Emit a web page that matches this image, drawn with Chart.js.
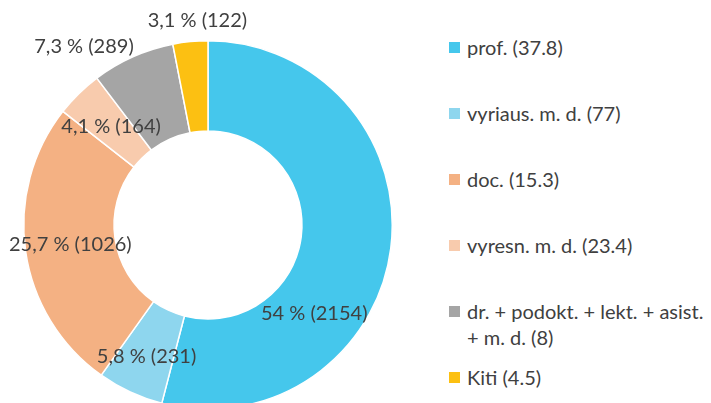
<!DOCTYPE html>
<html>
<head>
<meta charset="utf-8">
<script src="https://cdn.jsdelivr.net/npm/chart.js@4.4.1/dist/chart.umd.min.js"></script>
<style>
  html, body { margin:0; padding:0; background:#fff; overflow:hidden; }
  body { width:711px; height:403px; position:relative; font-family: Lato, sans-serif; }
  #wrap { position:absolute; left:0; top:0; width:416px; height:450px; }
  #legend { position:absolute; left:449px; top:34px; width:262px; margin:0; padding:0; list-style:none; }
  #legend li { height:66px; display:flex; align-items:flex-start; font-size:20px; line-height:26px; color:#404040; }
  #legend .box { width:11px; height:11px; flex:none; margin-top:8px; margin-right:7px; }
</style>
</head>
<body>
<div id="wrap"><canvas id="donut" width="416" height="450"></canvas></div>
<ul id="legend"></ul>
<script>
// slices go clockwise from 12 o'clock
const names = ['prof.', 'vyriaus. m. d.', 'doc.', 'vyresn. m. d.', 'dr. + podokt. + lekt. + asist. + m. d.', 'Kiti'];
const legendValues = [37.8, 77, 15.3, 23.4, 8, 4.5];
const counts = [2154, 231, 1026, 164, 289, 122];
const colors = ['#45C7EC', '#8ED6EE', '#F4B183', '#F8CBAD', '#A5A5A5', '#FCC012'];

// where each data label sits: fraction along the slice, distance as share of outer radius
const labelSpot = [0.667, 0.5, 0.5, 0.5, 0.09, 0.73];
const labelDist = [0.75, 0.79, 0.755, 0.75, 1.18, 1.11];

const total = counts.reduce((a, b) => a + b, 0);

function pctText(v) {
  const p = (v / total * 100).toFixed(1).replace('.', ',').replace(/,0$/, '');
  return `${p} % (${v})`;
}

const sliceLabels = {
  id: 'sliceLabels',
  afterDatasetsDraw(chart) {
    const ctx = chart.ctx;
    const meta = chart.getDatasetMeta(0);
    ctx.save();
    ctx.font = '20px Lato';
    ctx.fillStyle = '#404040';
    ctx.textAlign = 'center';
    ctx.textBaseline = 'middle';
    meta.data.forEach((arc, i) => {
      const p = arc.getProps(['x', 'y', 'startAngle', 'endAngle', 'outerRadius'], true);
      const a = p.startAngle + (p.endAngle - p.startAngle) * labelSpot[i];
      const r = p.outerRadius * labelDist[i];
      ctx.fillText(pctText(counts[i]), p.x + Math.cos(a) * r, p.y + Math.sin(a) * r);
    });
    ctx.restore();
  }
};

new Chart(document.getElementById('donut'), {
  type: 'doughnut',
  data: {
    labels: names,
    datasets: [{
      data: counts,
      backgroundColor: colors,
      borderColor: '#ffffff',
      borderWidth: 1.5
    }]
  },
  options: {
    responsive: false,
    animation: false,
    cutout: '51%',
    layout: { padding: { top: 40, bottom: 40, left: 23, right: 23 } },
    plugins: { legend: { display: false }, tooltip: { enabled: false } }
  },
  plugins: [sliceLabels]
});

// legend on the right
const legendEl = document.getElementById('legend');
names.forEach((n, i) => {
  const li = document.createElement('li');
  li.innerHTML = `<span class="box" style="background:${colors[i]}"></span><span>${n} (${legendValues[i]})</span>`;
  legendEl.appendChild(li);
});
</script>
</body>
</html>
